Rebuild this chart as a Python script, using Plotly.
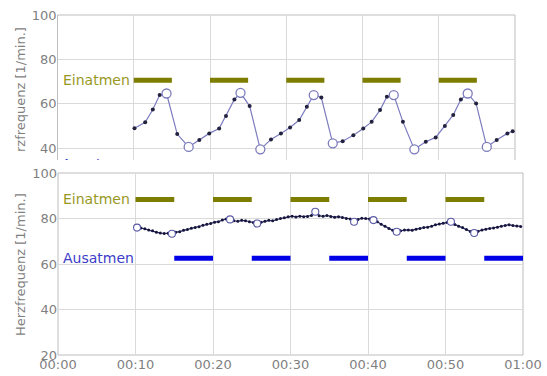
import numpy as np
import plotly.graph_objects as go

# ---------------- data ----------------
tick_secs = [0, 10, 20, 30, 40, 50, 60]
tick_text = ["00:00", "00:10", "00:20", "00:30", "00:40", "00:50", "01:00"]

# top panel (strong respiratory sinus arrhythmia)
t_top = [10.1, 11.5, 12.5, 13.4, 14.3, 15.7, 17.2, 18.6, 19.9, 21.2, 22.1, 23.2, 24.0, 25.2,
         26.6, 28.0, 29.3, 30.5, 31.7, 32.7, 33.6, 34.6, 36.1, 37.4, 38.8, 40.1, 41.2, 42.3,
         43.2, 44.1, 45.3, 46.8, 48.3, 49.6, 50.8, 51.9, 52.9, 53.8, 54.9, 56.3, 57.6, 59.0, 59.7]
hr_top = [48.9, 51.6, 57.4, 63.9, 64.6, 46.3, 40.5, 43.6, 46.6, 48.8, 54.4, 61.9, 64.9, 58.9,
          39.4, 43.9, 46.6, 49.3, 52.6, 58.6, 63.9, 62.8, 42.1, 43.1, 45.8, 48.8, 51.8, 57.1,
          63.1, 63.9, 51.8, 39.4, 42.8, 44.8, 49.9, 54.9, 61.9, 64.6, 60.1, 40.5, 43.6, 46.6, 47.6]
ext_top = [4, 6, 12, 14, 20, 22, 29, 31, 37, 39]

# bottom panel
hr_bot = [76.0, 75.8, 75.5, 74.9, 74.6, 74.0, 73.6, 73.4, 73.5, 73.3,
          74.0, 74.2, 74.8, 75.2, 75.7, 76.0, 76.4, 77.0, 77.5, 77.8,
          78.4, 78.6, 79.3, 79.8, 79.6, 79.0, 78.8, 79.2, 79.0, 78.6,
          78.2, 77.8, 78.3, 78.8, 79.2, 79.0, 79.6, 80.0, 80.3, 80.8,
          81.0, 80.7, 81.0, 80.8, 80.9, 81.3, 83.0, 81.2, 81.0, 81.3,
          80.9, 80.6, 80.8, 80.4, 80.0, 79.8, 78.6, 79.6, 80.1, 80.0,
          79.8, 79.3, 78.6, 77.5, 76.6, 75.6, 74.8, 74.2, 74.6, 74.9,
          75.0, 74.8, 75.3, 75.6, 76.0, 76.2, 76.6, 77.2, 77.6, 77.9,
          78.2, 78.6, 77.4, 76.6, 76.0, 75.2, 74.3, 73.6, 74.4, 75.0,
          75.3, 75.6, 75.8, 76.2, 76.6, 76.9, 77.3, 76.9, 76.7, 76.5]
t_bot_start = 10.2
t_bot_step = 0.5
ext_bot = [0, 9, 24, 31, 46, 56, 61, 67, 81, 87]

ein_start = [10, 20, 30, 40, 50]
ein_end = [15, 25, 35, 45, 55]
aus_start = [15, 25, 35, 45, 55]
aus_end = [20, 30, 40, 50, 60]
ein_level_top = 70.6
ein_level_bot = 88.4
aus_level_bot = 62.5
aus_label_top = 32.3

# ---------------- figure ----------------
W, H = 547, 376
t_bot = [round(t_bot_start + i * t_bot_step, 2) for i in range(len(hr_bot))]

def segs(starts, ends, level):
    xs, ys = [], []
    for s, e in zip(starts, ends):
        xs += [s, e, None]
        ys += [level, level, None]
    return xs, ys

FONT = "DejaVu Sans"
OLIVE = "#7d7d00"
OLIVE_TXT = "#98981e"
BLUE = "#0000e6"
BLUE_TXT = "#3c3cc8"
GRID = "#dadada"
BORDER = "#bdbdbd"
TICKC = "#7f7f7f"

fig = go.Figure()

# top panel
x, y = segs(ein_start, ein_end, ein_level_top)
fig.add_trace(go.Scatter(x=x, y=y, mode="lines", line=dict(color=OLIVE, width=5),
                         xaxis="x", yaxis="y", hoverinfo="skip"))
fig.add_trace(go.Scatter(x=t_top, y=hr_top, mode="lines+markers",
                         line=dict(color="#7c7cc0", width=1.2),
                         marker=dict(color="#22223f", size=4),
                         xaxis="x", yaxis="y"))
fig.add_trace(go.Scatter(x=[t_top[i] for i in ext_top], y=[hr_top[i] for i in ext_top],
                         mode="markers",
                         marker=dict(color="white", size=9, line=dict(color="#7c7cbc", width=1.3)),
                         xaxis="x", yaxis="y"))
fig.add_trace(go.Scatter(x=[0.55], y=[aus_label_top], mode="text", text=["Ausatmen"],
                         textposition="middle right",
                         textfont=dict(family=FONT, size=14, color=BLUE_TXT),
                         cliponaxis=True, xaxis="x", yaxis="y"))

# bottom panel
x, y = segs(ein_start, ein_end, ein_level_bot)
fig.add_trace(go.Scatter(x=x, y=y, mode="lines", line=dict(color=OLIVE, width=5),
                         xaxis="x2", yaxis="y2"))
x, y = segs(aus_start, aus_end, aus_level_bot)
fig.add_trace(go.Scatter(x=x, y=y, mode="lines", line=dict(color=BLUE, width=5),
                         xaxis="x2", yaxis="y2"))
fig.add_trace(go.Scatter(x=t_bot, y=hr_bot, mode="lines+markers",
                         line=dict(color="#2c2c6c", width=1.2),
                         marker=dict(color="#16163c", size=3),
                         xaxis="x2", yaxis="y2"))
fig.add_trace(go.Scatter(x=[t_bot[i] for i in ext_bot], y=[hr_bot[i] for i in ext_bot],
                         mode="markers",
                         marker=dict(color="white", size=7, line=dict(color="#5a5aa6", width=1.1)),
                         xaxis="x2", yaxis="y2"))

top_x = [57.5 / W, 515 / W]
top_y = [1 - 160 / H, 1 - 15 / H]
bot_x = [58 / W, 523 / W]
bot_y = [1 - 355 / H, 1 - 173 / H]

tickfont = dict(family=FONT, size=13, color=TICKC)
common = dict(showgrid=True, gridcolor=GRID, zeroline=False, showline=False, automargin=False)
fig.update_layout(
    width=W, height=H, margin=dict(l=0, r=0, t=0, b=0, pad=0, autoexpand=False),
    paper_bgcolor="white", plot_bgcolor="white", showlegend=False,
    xaxis=dict(domain=top_x, range=[0, 60], tickvals=tick_secs, showticklabels=False,
               anchor="y", **common),
    yaxis=dict(domain=top_y, range=[34.6, 100], tickvals=[40, 60, 80, 100],
               tickfont=tickfont, anchor="x", **common),
    xaxis2=dict(domain=bot_x, range=[0, 60], tickvals=tick_secs, ticktext=tick_text,
                tickfont=tickfont, anchor="y2", **common),
    yaxis2=dict(domain=bot_y, range=[20, 100], tickvals=[20, 40, 60, 80, 100],
                tickfont=tickfont, anchor="x2", **common),
)

shapes = [
    dict(type="line", xref="x domain", yref="y domain", x0=0, x1=0, y0=0, y1=1),
    dict(type="line", xref="x domain", yref="y domain", x0=1, x1=1, y0=0, y1=1),
    dict(type="line", xref="x domain", yref="y domain", x0=0, x1=1, y0=1, y1=1),
    dict(type="rect", xref="x2 domain", yref="y2 domain", x0=0, x1=1, y0=0, y1=1),
]
for s in shapes:
    s["line"] = dict(color=BORDER, width=1)
    s["layer"] = "below"
fig.update_layout(shapes=shapes)

ann = [
    dict(text="Einatmen", x=61 / W, xref="paper", xanchor="left", y=ein_level_top, yref="y",
         font=dict(family=FONT, size=14, color=OLIVE_TXT)),
    dict(text="Einatmen", x=61 / W, xref="paper", xanchor="left", y=ein_level_bot, yref="y2",
         font=dict(family=FONT, size=14, color=OLIVE_TXT)),
    dict(text="Ausatmen", x=61 / W, xref="paper", xanchor="left", y=aus_level_bot, yref="y2",
         font=dict(family=FONT, size=14, color=BLUE_TXT)),
    dict(text="Herzfrequenz [1/min.]", textangle=-90, x=20 / W, xref="paper", xanchor="center",
         y=1 - 265 / H, yref="paper", yanchor="middle",
         font=dict(family=FONT, size=13, color=TICKC)),
    dict(text="rzfrequenz [1/min.]", textangle=-90, x=20 / W, xref="paper", xanchor="center",
         y=1 - 90 / H, yref="paper", yanchor="middle",
         font=dict(family=FONT, size=13, color=TICKC)),
]
for a in ann:
    a["showarrow"] = False
fig.update_layout(annotations=ann)

fig.write_html("out.html")
